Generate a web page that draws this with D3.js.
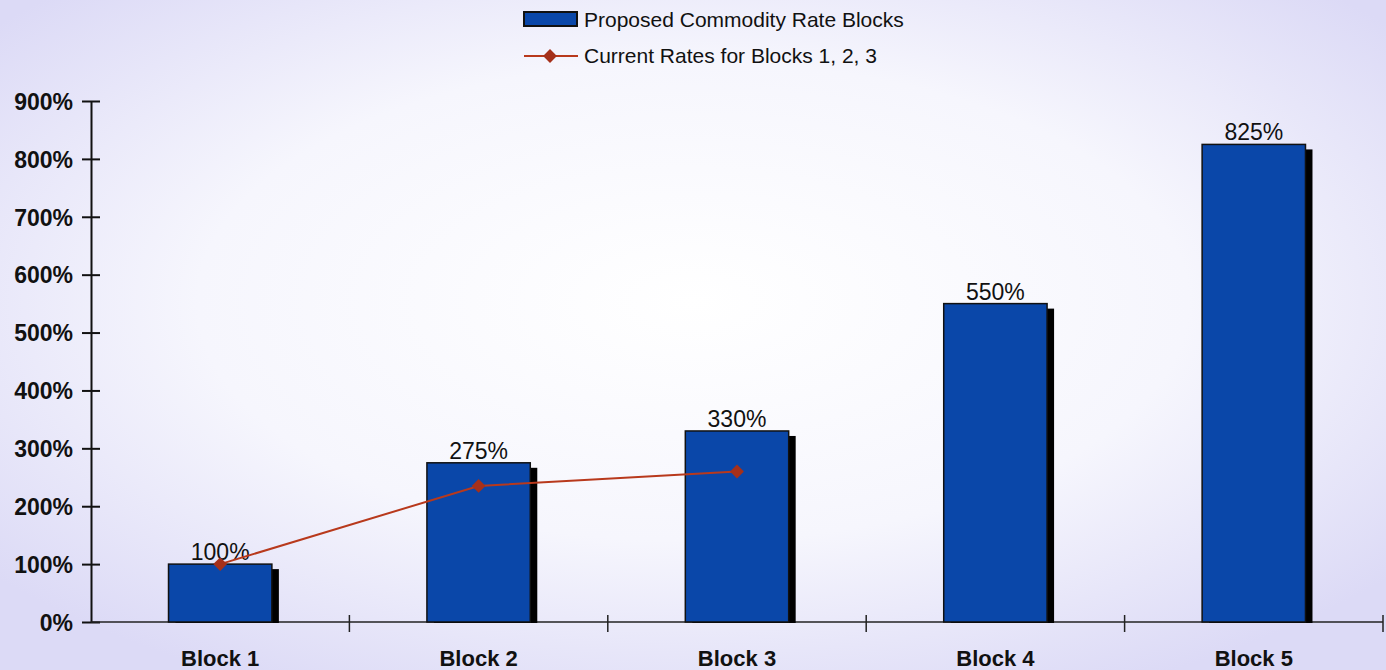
<!DOCTYPE html>
<html><head><meta charset="utf-8">
<script src="https://cdn.jsdelivr.net/npm/d3@7"></script>
<style>html,body{margin:0;padding:0;background:#ececfa;}svg{display:block;font-family:"Liberation Sans",Arial,sans-serif;}</style>
</head><body>
<svg id="c" width="1386" height="670"></svg>
<script>
const categories = ["Block 1","Block 2","Block 3","Block 4","Block 5"];
const proposedValues = [100,275,330,550,825];
const proposedLabels = ["100%","275%","330%","550%","825%"];
const currentCategories = ["Block 1","Block 2","Block 3"];
const currentValues = [100,235,260];
const yTicks = [0,100,200,300,400,500,600,700,800,900];
const seriesNames = ["Proposed Commodity Rate Blocks","Current Rates for Blocks 1, 2, 3"];

(function(){
const svg = d3.select("#c");
const W=1386,H=670;
const defs = svg.append("defs");
const rg = defs.append("radialGradient").attr("id","bg").attr("cx","0.5").attr("cy","0.45").attr("r","0.65");
rg.append("stop").attr("offset","0%").attr("stop-color","#ffffff");
rg.append("stop").attr("offset","55%").attr("stop-color","#f6f6fd");
rg.append("stop").attr("offset","100%").attr("stop-color","#dcdaf6");
svg.append("rect").attr("width",W).attr("height",H).attr("fill","url(#bg)");

const mLeft=91,mRight=1383,mTop=101,mBottom=622;
const x = d3.scaleBand().domain(categories).range([mLeft,mRight]).paddingInner(0.6).paddingOuter(0.3);
const xb = d3.scaleBand().domain(categories).range([mLeft,mRight]);
const y = d3.scaleLinear().domain([0,900]).range([mBottom,mTop]);

// y axis
const yAxis = d3.axisLeft(y).tickValues(yTicks).tickFormat(d=>d+"%").tickSize(0).tickPadding(18);
const gy = svg.append("g").attr("transform",`translate(${mLeft},0)`).call(yAxis);
gy.select(".domain").attr("stroke","#111").attr("stroke-width",2);
gy.selectAll("text").attr("font-size",23).attr("font-weight","bold").attr("fill","#111").attr("dy","0.36em");
gy.selectAll(".tick").append("line").attr("x1",-9).attr("x2",9).attr("stroke","#111").attr("stroke-width",2);

// x axis
const gx = svg.append("g").attr("transform",`translate(0,${mBottom})`);
gx.append("line").attr("x1",mLeft).attr("x2",mRight).attr("stroke","#222").attr("stroke-width",1.5);
const bounds = categories.map(c=>xb(c)+xb.bandwidth());
gx.selectAll("line.t").data(bounds).join("line").attr("class","t")
  .attr("x1",d=>d).attr("x2",d=>d).attr("y1",-7).attr("y2",10).attr("stroke","#222").attr("stroke-width",1.5);
gx.selectAll("text").data(categories).join("text")
  .attr("x",d=>xb(d)+xb.bandwidth()/2).attr("y",44).attr("text-anchor","middle")
  .attr("font-size",22).attr("font-weight","bold").attr("fill","#111").text(d=>d);

// bars
const bars = svg.append("g");
bars.selectAll("rect.s").data(proposedValues).join("rect").attr("class","s")
  .attr("x",(d,i)=>x(categories[i])+7).attr("y",d=>y(d)+5)
  .attr("width",x.bandwidth()).attr("height",d=>mBottom-y(d)-4).attr("fill","#000");
bars.selectAll("rect.b").data(proposedValues).join("rect").attr("class","b")
  .attr("x",(d,i)=>x(categories[i])).attr("y",d=>y(d))
  .attr("width",x.bandwidth()).attr("height",d=>mBottom-y(d)).attr("fill","#0a47a9").attr("stroke","#111").attr("stroke-width",1.5);
bars.selectAll("text").data(proposedValues).join("text")
  .attr("x",(d,i)=>x(categories[i])+x.bandwidth()/2).attr("y",d=>y(d)-4).attr("text-anchor","middle")
  .attr("font-size",23).attr("fill","#111").text((d,i)=>proposedLabels[i]);

// line
const line = d3.line().x((d,i)=>x(currentCategories[i])+x.bandwidth()/2).y(d=>y(d));
svg.append("path").datum(currentValues).attr("d",line).attr("fill","none").attr("stroke","#b8391c").attr("stroke-width",2);
const diamond = d3.symbol().type(d3.symbolSquare).size(95);
svg.selectAll("path.m").data(currentValues).join("path").attr("class","m")
  .attr("transform",(d,i)=>`translate(${x(currentCategories[i])+x.bandwidth()/2},${y(d)}) rotate(45)`)
  .attr("d",diamond).attr("fill","#a5301a");

// legend
const lg = svg.append("g");
lg.append("rect").attr("x",524).attr("y",12).attr("width",53).attr("height",14).attr("fill","#0a47a9").attr("stroke","#111").attr("stroke-width",2);
lg.append("text").attr("x",584).attr("y",27).attr("font-size",21).attr("fill","#111").text(seriesNames[0]);
lg.append("line").attr("x1",524).attr("x2",578).attr("y1",56).attr("y2",56).attr("stroke","#b8391c").attr("stroke-width",2);
lg.append("path").attr("transform","translate(550,56) rotate(45)").attr("d",diamond).attr("fill","#a5301a");
lg.append("text").attr("x",584).attr("y",63).attr("font-size",21).attr("fill","#111").text(seriesNames[1]);
})();
</script>
</body></html>
